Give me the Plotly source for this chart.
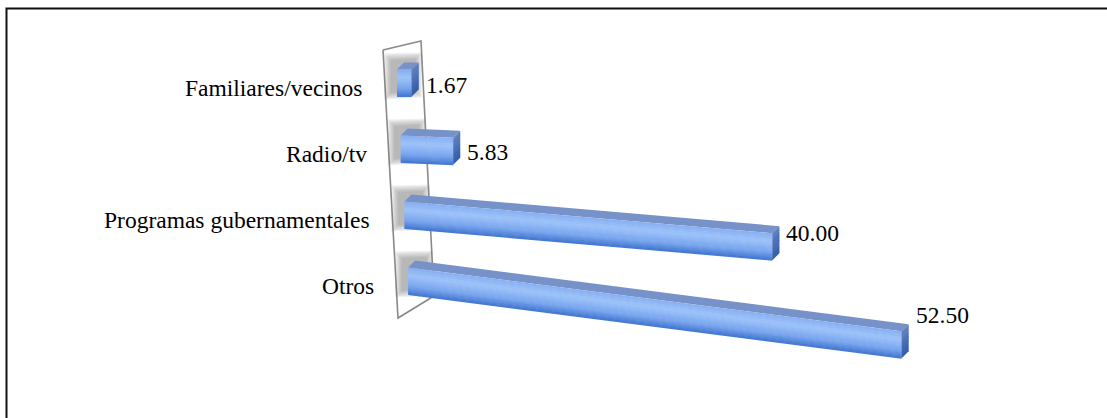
import plotly.graph_objects as go

# ---- data ----
categories = ["Familiares/vecinos", "Radio/tv", "Programas gubernamentales", "Otros"]
values = [1.67, 5.83, 40.00, 52.50]
value_labels = [f"{v:.2f}" for v in values]

# ---- 3D-look projection of (value, row, height fraction, depth) onto the canvas ----
W, H = 1107, 418
FACE_H = 27.0      # front-face height of a bar
DEPTH_DX, DEPTH_DY = 7.0, -7.0


def row_params(i):
    x0 = 397 + 3.7 * i          # where the bar leaves the wall
    y0 = 69.5 + 66.0 * i        # top edge of the front face at the wall
    s = 8.8 + 0.2 * i           # pixels per unit of value
    m = 0.043 * i               # perspective drop per pixel of length
    return x0, y0, s, m


def proj(v, i, t=0.0, d=0.0):
    x0, y0, s, m = row_params(i)
    length = s * v
    return (x0 + length + d * DEPTH_DX,
            y0 + t * FACE_H + m * length + d * DEPTH_DY)


def poly(pts, color, opacity=1.0):
    xs = [p[0] for p in pts] + [pts[0][0]]
    ys = [p[1] for p in pts] + [pts[0][1]]
    return go.Scatter(x=xs, y=ys, mode="lines", fill="toself", fillcolor=color,
                      line=dict(width=0, color=color), opacity=opacity,
                      hoverinfo="skip", showlegend=False)


def lerp_hex(c1, c2, f):
    a = [int(c1[k:k + 2], 16) for k in (1, 3, 5)]
    b = [int(c2[k:k + 2], 16) for k in (1, 3, 5)]
    return "#" + "".join(f"{round(a[j] + (b[j] - a[j]) * f):02x}" for j in range(3))


def ramp(stops, f):
    for (p0, c0), (p1, c1) in zip(stops, stops[1:]):
        if f <= p1:
            return lerp_hex(c0, c1, (f - p0) / (p1 - p0) if p1 > p0 else 0)
    return stops[-1][1]


FRONT_STOPS = [(0.0, "#86aef0"), (0.3, "#9dc3fa"), (0.7, "#79a5ee"), (1.0, "#3f74cf")]
END_STOPS = [(0.0, "#5f80c2"), (1.0, "#2d58a6")]
TOP_COLOR = "#7792c8"

traces = []

# frame (left and top edges)
traces.append(go.Scatter(x=[6.5, 6.5, W], y=[H, 8.5, 8.5], mode="lines",
                         line=dict(color="#111111", width=2),
                         hoverinfo="skip", showlegend=False))

# side wall behind the bars
wall = [(383, 50), (421, 41), (434, 296), (398, 318)]
traces.append(go.Scatter(x=[p[0] for p in wall] + [wall[0][0]],
                         y=[p[1] for p in wall] + [wall[0][1]],
                         mode="lines", fill="toself", fillcolor="#ffffff",
                         line=dict(color="#8a8a8a", width=1.6),
                         hoverinfo="skip", showlegend=False))

# soft shadows cast on the wall
for i in range(len(values)):
    x0, y0, s, m = row_params(i)
    for k in range(6):
        g = 7 - k * 1.3
        pts = [(x0 - 6 - g, y0 - 9 - g), (x0 + 18 + g, y0 - 10 - g),
               (x0 + 18 + g, y0 + FACE_H - 6 + g), (x0 - 6 - g, y0 + FACE_H - 4 + g)]
        traces.append(poly(pts, "#6e6e6e", 0.1))

NB = 14
for i, v in enumerate(values):
    # top face
    traces.append(poly([proj(0, i, 0, 0), proj(v, i, 0, 0),
                        proj(v, i, 0, 1), proj(0, i, 0, 1)], TOP_COLOR))
    # front face, shaded in horizontal bands
    for k in range(NB):
        t0, t1 = k / NB, (k + 1) / NB
        col = ramp(FRONT_STOPS, (k + 0.5) / NB)
        traces.append(poly([proj(0, i, t0), proj(v, i, t0),
                            proj(v, i, t1 + 0.02), proj(0, i, t1 + 0.02)], col))
    # end cap
    for k in range(NB):
        t0, t1 = k / NB, (k + 1) / NB
        col = ramp(END_STOPS, (k + 0.5) / NB)
        traces.append(poly([proj(v, i, t0, 0), proj(v, i, t0, 1),
                            proj(v, i, min(t1 + 0.02, 1), 1), proj(v, i, min(t1 + 0.02, 1), 0)], col))

annotations = []
FONT = dict(family="Liberation Serif", size=23.5, color="#000000")
for i, (cat, v, lab) in enumerate(zip(categories, values, value_labels)):
    x0, y0, s, m = row_params(i)
    annotations.append(dict(x=x0 - 32, y=y0 + FACE_H / 2 + 5, text=cat, showarrow=False,
                            xanchor="right", yanchor="middle", font=FONT,
                            xref="x", yref="y"))
    ex, _ = proj(v, i, 0, 1)
    annotations.append(dict(x=ex + 5, y=y0 + FACE_H / 2 + 0.5 * m * s * v + 2, text=lab,
                            showarrow=False, xanchor="left", yanchor="middle", font=FONT,
                            xref="x", yref="y"))

fig = go.Figure(traces)
fig.update_layout(
    width=W, height=H,
    margin=dict(l=0, r=0, t=0, b=0),
    paper_bgcolor="#ffffff", plot_bgcolor="#ffffff",
    xaxis=dict(range=[0, W], visible=False, fixedrange=True),
    yaxis=dict(range=[H, 0], visible=False, fixedrange=True),
    annotations=annotations,
    showlegend=False,
)
fig.write_html("out.html", config={"displayModeBar": False})
